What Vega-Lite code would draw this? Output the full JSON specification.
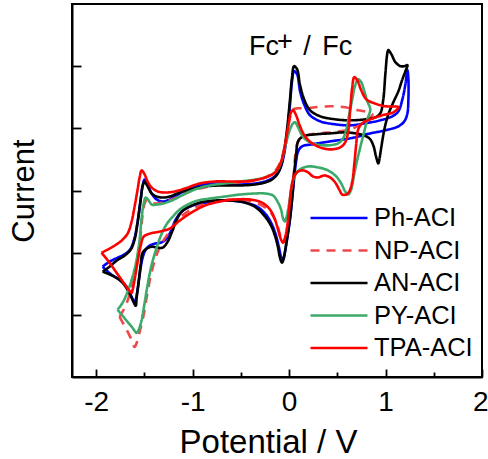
{
"$schema": "https://vega.github.io/schema/vega-lite/v6.json",
"width": 410, "height": 373,
"autosize": {"type": "none"},
"padding": {"left": 72, "top": 4, "right": 6, "bottom": 82},
"background": "white",
"config": {
  "view": {"stroke": "black", "strokeWidth": 2},
  "font": "Liberation Sans",
  "axis": {"domainColor": "black", "domainWidth": 2, "tickColor": "black", "tickWidth": 1.8, "grid": false, "labelColor": "black", "titleColor": "black", "labelFont": "Liberation Sans", "titleFont": "Liberation Sans", "titleFontWeight": "normal"},
  "legend": {"orient": "none", "legendX": 237, "legendY": 202, "symbolType": "stroke", "symbolSize": 3249, "symbolStrokeWidth": 2.6, "labelFontSize": 25.5, "labelFont": "Liberation Sans", "labelColor": "black", "clipHeight": 24, "rowPadding": 6.5, "labelOffset": 5, "padding": 0}
},
"layer": [
{
"data": {"values": [
{"s":"Ph-ACI","i":1,"x":-1.933,"y":1.774},{"s":"Ph-ACI","i":2,"x":-1.861,"y":1.855},{"s":"Ph-ACI","i":3,"x":-1.778,"y":1.919},{"s":"Ph-ACI","i":4,"x":-1.694,"y":1.984},{"s":"Ph-ACI","i":5,"x":-1.642,"y":2.065},{"s":"Ph-ACI","i":6,"x":-1.601,"y":2.242},{"s":"Ph-ACI","i":7,"x":-1.570,"y":2.500},{"s":"Ph-ACI","i":8,"x":-1.538,"y":2.855},{"s":"Ph-ACI","i":9,"x":-1.518,"y":3.081},{"s":"Ph-ACI","i":10,"x":-1.497,"y":3.177},{"s":"Ph-ACI","i":11,"x":-1.466,"y":3.097},{"s":"Ph-ACI","i":12,"x":-1.424,"y":2.952},{"s":"Ph-ACI","i":13,"x":-1.372,"y":2.855},{"s":"Ph-ACI","i":14,"x":-1.310,"y":2.823},{"s":"Ph-ACI","i":15,"x":-1.237,"y":2.855},{"s":"Ph-ACI","i":16,"x":-1.133,"y":2.952},{"s":"Ph-ACI","i":17,"x":-1.029,"y":3.032},{"s":"Ph-ACI","i":18,"x":-0.873,"y":3.097},{"s":"Ph-ACI","i":19,"x":-0.717,"y":3.113},{"s":"Ph-ACI","i":20,"x":-0.509,"y":3.097},{"s":"Ph-ACI","i":21,"x":-0.353,"y":3.113},{"s":"Ph-ACI","i":22,"x":-0.249,"y":3.145},{"s":"Ph-ACI","i":23,"x":-0.177,"y":3.194},{"s":"Ph-ACI","i":24,"x":-0.125,"y":3.258},{"s":"Ph-ACI","i":25,"x":-0.083,"y":3.387},{"s":"Ph-ACI","i":26,"x":-0.052,"y":3.581},{"s":"Ph-ACI","i":27,"x":-0.021,"y":3.903},{"s":"Ph-ACI","i":28,"x":0.010,"y":4.387},{"s":"Ph-ACI","i":29,"x":0.031,"y":4.758},{"s":"Ph-ACI","i":30,"x":0.052,"y":4.919},{"s":"Ph-ACI","i":31,"x":0.083,"y":4.871},{"s":"Ph-ACI","i":32,"x":0.114,"y":4.597},{"s":"Ph-ACI","i":33,"x":0.156,"y":4.387},{"s":"Ph-ACI","i":34,"x":0.218,"y":4.210},{"s":"Ph-ACI","i":35,"x":0.322,"y":4.113},{"s":"Ph-ACI","i":36,"x":0.478,"y":4.065},{"s":"Ph-ACI","i":37,"x":0.634,"y":4.048},{"s":"Ph-ACI","i":38,"x":0.790,"y":4.081},{"s":"Ph-ACI","i":39,"x":0.946,"y":4.129},{"s":"Ph-ACI","i":40,"x":1.071,"y":4.194},{"s":"Ph-ACI","i":41,"x":1.133,"y":4.274},{"s":"Ph-ACI","i":42,"x":1.175,"y":4.468},{"s":"Ph-ACI","i":43,"x":1.206,"y":4.710},{"s":"Ph-ACI","i":44,"x":1.227,"y":4.935},{"s":"Ph-ACI","i":45,"x":1.237,"y":4.790},{"s":"Ph-ACI","i":46,"x":1.237,"y":4.468},{"s":"Ph-ACI","i":47,"x":1.227,"y":4.242},{"s":"Ph-ACI","i":48,"x":1.195,"y":4.113},{"s":"Ph-ACI","i":49,"x":1.133,"y":4.032},{"s":"Ph-ACI","i":50,"x":0.998,"y":3.968},{"s":"Ph-ACI","i":51,"x":0.842,"y":3.919},{"s":"Ph-ACI","i":52,"x":0.634,"y":3.839},{"s":"Ph-ACI","i":53,"x":0.426,"y":3.790},{"s":"Ph-ACI","i":54,"x":0.239,"y":3.742},{"s":"Ph-ACI","i":55,"x":0.135,"y":3.710},{"s":"Ph-ACI","i":56,"x":0.094,"y":3.629},{"s":"Ph-ACI","i":57,"x":0.073,"y":3.468},{"s":"Ph-ACI","i":58,"x":0.052,"y":3.177},{"s":"Ph-ACI","i":59,"x":0.031,"y":2.855},{"s":"Ph-ACI","i":60,"x":0.010,"y":2.532},{"s":"Ph-ACI","i":61,"x":-0.021,"y":2.210},{"s":"Ph-ACI","i":62,"x":-0.042,"y":2.016},{"s":"Ph-ACI","i":63,"x":-0.062,"y":1.887},{"s":"Ph-ACI","i":64,"x":-0.083,"y":1.935},{"s":"Ph-ACI","i":65,"x":-0.104,"y":2.081},{"s":"Ph-ACI","i":66,"x":-0.135,"y":2.274},{"s":"Ph-ACI","i":67,"x":-0.177,"y":2.452},{"s":"Ph-ACI","i":68,"x":-0.239,"y":2.613},{"s":"Ph-ACI","i":69,"x":-0.333,"y":2.742},{"s":"Ph-ACI","i":70,"x":-0.457,"y":2.806},{"s":"Ph-ACI","i":71,"x":-0.613,"y":2.839},{"s":"Ph-ACI","i":72,"x":-0.769,"y":2.823},{"s":"Ph-ACI","i":73,"x":-0.925,"y":2.790},{"s":"Ph-ACI","i":74,"x":-1.029,"y":2.742},{"s":"Ph-ACI","i":75,"x":-1.112,"y":2.661},{"s":"Ph-ACI","i":76,"x":-1.175,"y":2.532},{"s":"Ph-ACI","i":77,"x":-1.227,"y":2.339},{"s":"Ph-ACI","i":78,"x":-1.279,"y":2.210},{"s":"Ph-ACI","i":79,"x":-1.331,"y":2.161},{"s":"Ph-ACI","i":80,"x":-1.393,"y":2.145},{"s":"Ph-ACI","i":81,"x":-1.445,"y":2.113},{"s":"Ph-ACI","i":82,"x":-1.486,"y":2.048},{"s":"Ph-ACI","i":83,"x":-1.518,"y":1.919},{"s":"Ph-ACI","i":84,"x":-1.549,"y":1.645},{"s":"Ph-ACI","i":85,"x":-1.570,"y":1.403},{"s":"Ph-ACI","i":86,"x":-1.590,"y":1.242},{"s":"Ph-ACI","i":87,"x":-1.601,"y":1.194},{"s":"Ph-ACI","i":88,"x":-1.632,"y":1.290},{"s":"Ph-ACI","i":89,"x":-1.684,"y":1.452},{"s":"Ph-ACI","i":90,"x":-1.757,"y":1.565},{"s":"Ph-ACI","i":91,"x":-1.840,"y":1.645},{"s":"Ph-ACI","i":92,"x":-1.933,"y":1.774},

{"s":"NP-ACI","i":1,"x":-1.757,"y":0.968},{"s":"NP-ACI","i":2,"x":-1.715,"y":1.081},{"s":"NP-ACI","i":3,"x":-1.663,"y":1.274},{"s":"NP-ACI","i":4,"x":-1.611,"y":1.565},{"s":"NP-ACI","i":5,"x":-1.570,"y":1.919},{"s":"NP-ACI","i":6,"x":-1.538,"y":2.290},{"s":"NP-ACI","i":7,"x":-1.518,"y":2.613},{"s":"NP-ACI","i":8,"x":-1.497,"y":2.790},{"s":"NP-ACI","i":9,"x":-1.476,"y":2.839},{"s":"NP-ACI","i":10,"x":-1.435,"y":2.806},{"s":"NP-ACI","i":11,"x":-1.383,"y":2.790},{"s":"NP-ACI","i":12,"x":-1.310,"y":2.806},{"s":"NP-ACI","i":13,"x":-1.216,"y":2.855},{"s":"NP-ACI","i":14,"x":-1.081,"y":2.952},{"s":"NP-ACI","i":15,"x":-0.925,"y":3.032},{"s":"NP-ACI","i":16,"x":-0.717,"y":3.097},{"s":"NP-ACI","i":17,"x":-0.509,"y":3.129},{"s":"NP-ACI","i":18,"x":-0.353,"y":3.161},{"s":"NP-ACI","i":19,"x":-0.249,"y":3.210},{"s":"NP-ACI","i":20,"x":-0.177,"y":3.274},{"s":"NP-ACI","i":21,"x":-0.125,"y":3.355},{"s":"NP-ACI","i":22,"x":-0.083,"y":3.484},{"s":"NP-ACI","i":23,"x":-0.052,"y":3.661},{"s":"NP-ACI","i":24,"x":-0.021,"y":3.903},{"s":"NP-ACI","i":25,"x":0.010,"y":4.177},{"s":"NP-ACI","i":26,"x":0.042,"y":4.306},{"s":"NP-ACI","i":27,"x":0.094,"y":4.323},{"s":"NP-ACI","i":28,"x":0.166,"y":4.323},{"s":"NP-ACI","i":29,"x":0.270,"y":4.339},{"s":"NP-ACI","i":30,"x":0.426,"y":4.355},{"s":"NP-ACI","i":31,"x":0.582,"y":4.339},{"s":"NP-ACI","i":32,"x":0.717,"y":4.290},{"s":"NP-ACI","i":33,"x":0.821,"y":4.258},{"s":"NP-ACI","i":34,"x":0.863,"y":4.226},{"s":"NP-ACI","i":35,"x":0.800,"y":4.113},{"s":"NP-ACI","i":36,"x":0.686,"y":4.016},{"s":"NP-ACI","i":37,"x":0.530,"y":3.952},{"s":"NP-ACI","i":38,"x":0.322,"y":3.919},{"s":"NP-ACI","i":39,"x":0.177,"y":3.887},{"s":"NP-ACI","i":40,"x":0.104,"y":3.823},{"s":"NP-ACI","i":41,"x":0.073,"y":3.661},{"s":"NP-ACI","i":42,"x":0.052,"y":3.339},{"s":"NP-ACI","i":43,"x":0.031,"y":2.935},{"s":"NP-ACI","i":44,"x":0.000,"y":2.532},{"s":"NP-ACI","i":45,"x":-0.031,"y":2.274},{"s":"NP-ACI","i":46,"x":-0.052,"y":2.177},{"s":"NP-ACI","i":47,"x":-0.083,"y":2.242},{"s":"NP-ACI","i":48,"x":-0.114,"y":2.403},{"s":"NP-ACI","i":49,"x":-0.156,"y":2.565},{"s":"NP-ACI","i":50,"x":-0.218,"y":2.694},{"s":"NP-ACI","i":51,"x":-0.322,"y":2.790},{"s":"NP-ACI","i":52,"x":-0.457,"y":2.839},{"s":"NP-ACI","i":53,"x":-0.613,"y":2.855},{"s":"NP-ACI","i":54,"x":-0.769,"y":2.823},{"s":"NP-ACI","i":55,"x":-0.925,"y":2.758},{"s":"NP-ACI","i":56,"x":-1.050,"y":2.661},{"s":"NP-ACI","i":57,"x":-1.154,"y":2.532},{"s":"NP-ACI","i":58,"x":-1.237,"y":2.339},{"s":"NP-ACI","i":59,"x":-1.310,"y":2.177},{"s":"NP-ACI","i":60,"x":-1.372,"y":1.968},{"s":"NP-ACI","i":61,"x":-1.424,"y":1.694},{"s":"NP-ACI","i":62,"x":-1.466,"y":1.371},{"s":"NP-ACI","i":63,"x":-1.507,"y":1.000},{"s":"NP-ACI","i":64,"x":-1.549,"y":0.726},{"s":"NP-ACI","i":65,"x":-1.580,"y":0.548},{"s":"NP-ACI","i":66,"x":-1.601,"y":0.484},{"s":"NP-ACI","i":67,"x":-1.642,"y":0.629},{"s":"NP-ACI","i":68,"x":-1.694,"y":0.790},{"s":"NP-ACI","i":69,"x":-1.757,"y":0.968},

{"s":"AN-ACI","i":1,"x":-1.933,"y":1.694},{"s":"AN-ACI","i":2,"x":-1.861,"y":1.774},{"s":"AN-ACI","i":3,"x":-1.788,"y":1.871},{"s":"AN-ACI","i":4,"x":-1.705,"y":1.952},{"s":"AN-ACI","i":5,"x":-1.642,"y":2.048},{"s":"AN-ACI","i":6,"x":-1.601,"y":2.210},{"s":"AN-ACI","i":7,"x":-1.570,"y":2.484},{"s":"AN-ACI","i":8,"x":-1.538,"y":2.855},{"s":"AN-ACI","i":9,"x":-1.518,"y":3.065},{"s":"AN-ACI","i":10,"x":-1.497,"y":3.145},{"s":"AN-ACI","i":11,"x":-1.466,"y":3.065},{"s":"AN-ACI","i":12,"x":-1.424,"y":2.952},{"s":"AN-ACI","i":13,"x":-1.372,"y":2.903},{"s":"AN-ACI","i":14,"x":-1.310,"y":2.887},{"s":"AN-ACI","i":15,"x":-1.237,"y":2.903},{"s":"AN-ACI","i":16,"x":-1.133,"y":2.968},{"s":"AN-ACI","i":17,"x":-1.029,"y":3.016},{"s":"AN-ACI","i":18,"x":-0.873,"y":3.065},{"s":"AN-ACI","i":19,"x":-0.717,"y":3.081},{"s":"AN-ACI","i":20,"x":-0.509,"y":3.081},{"s":"AN-ACI","i":21,"x":-0.353,"y":3.097},{"s":"AN-ACI","i":22,"x":-0.249,"y":3.129},{"s":"AN-ACI","i":23,"x":-0.177,"y":3.177},{"s":"AN-ACI","i":24,"x":-0.125,"y":3.258},{"s":"AN-ACI","i":25,"x":-0.083,"y":3.403},{"s":"AN-ACI","i":26,"x":-0.052,"y":3.629},{"s":"AN-ACI","i":27,"x":-0.021,"y":3.984},{"s":"AN-ACI","i":28,"x":0.010,"y":4.468},{"s":"AN-ACI","i":29,"x":0.031,"y":4.823},{"s":"AN-ACI","i":30,"x":0.052,"y":5.000},{"s":"AN-ACI","i":31,"x":0.083,"y":4.952},{"s":"AN-ACI","i":32,"x":0.114,"y":4.694},{"s":"AN-ACI","i":33,"x":0.156,"y":4.468},{"s":"AN-ACI","i":34,"x":0.218,"y":4.290},{"s":"AN-ACI","i":35,"x":0.322,"y":4.194},{"s":"AN-ACI","i":36,"x":0.478,"y":4.145},{"s":"AN-ACI","i":37,"x":0.634,"y":4.129},{"s":"AN-ACI","i":38,"x":0.790,"y":4.145},{"s":"AN-ACI","i":39,"x":0.894,"y":4.177},{"s":"AN-ACI","i":40,"x":0.946,"y":4.242},{"s":"AN-ACI","i":41,"x":0.977,"y":4.468},{"s":"AN-ACI","i":42,"x":0.998,"y":4.871},{"s":"AN-ACI","i":43,"x":1.019,"y":5.210},{"s":"AN-ACI","i":44,"x":1.029,"y":5.258},{"s":"AN-ACI","i":45,"x":1.060,"y":5.194},{"s":"AN-ACI","i":46,"x":1.102,"y":5.065},{"s":"AN-ACI","i":47,"x":1.154,"y":5.000},{"s":"AN-ACI","i":48,"x":1.195,"y":5.000},{"s":"AN-ACI","i":49,"x":1.227,"y":5.016},{"s":"AN-ACI","i":50,"x":1.206,"y":4.919},{"s":"AN-ACI","i":51,"x":1.175,"y":4.790},{"s":"AN-ACI","i":52,"x":1.133,"y":4.597},{"s":"AN-ACI","i":53,"x":1.081,"y":4.419},{"s":"AN-ACI","i":54,"x":1.029,"y":4.226},{"s":"AN-ACI","i":55,"x":0.988,"y":3.984},{"s":"AN-ACI","i":56,"x":0.956,"y":3.694},{"s":"AN-ACI","i":57,"x":0.936,"y":3.500},{"s":"AN-ACI","i":58,"x":0.925,"y":3.435},{"s":"AN-ACI","i":59,"x":0.904,"y":3.532},{"s":"AN-ACI","i":60,"x":0.873,"y":3.726},{"s":"AN-ACI","i":61,"x":0.832,"y":3.839},{"s":"AN-ACI","i":62,"x":0.738,"y":3.903},{"s":"AN-ACI","i":63,"x":0.582,"y":3.935},{"s":"AN-ACI","i":64,"x":0.426,"y":3.919},{"s":"AN-ACI","i":65,"x":0.270,"y":3.903},{"s":"AN-ACI","i":66,"x":0.146,"y":3.871},{"s":"AN-ACI","i":67,"x":0.094,"y":3.790},{"s":"AN-ACI","i":68,"x":0.073,"y":3.581},{"s":"AN-ACI","i":69,"x":0.052,"y":3.258},{"s":"AN-ACI","i":70,"x":0.031,"y":2.855},{"s":"AN-ACI","i":71,"x":0.000,"y":2.452},{"s":"AN-ACI","i":72,"x":-0.031,"y":2.129},{"s":"AN-ACI","i":73,"x":-0.052,"y":1.935},{"s":"AN-ACI","i":74,"x":-0.073,"y":1.839},{"s":"AN-ACI","i":75,"x":-0.094,"y":1.919},{"s":"AN-ACI","i":76,"x":-0.114,"y":2.081},{"s":"AN-ACI","i":77,"x":-0.146,"y":2.274},{"s":"AN-ACI","i":78,"x":-0.187,"y":2.435},{"s":"AN-ACI","i":79,"x":-0.249,"y":2.581},{"s":"AN-ACI","i":80,"x":-0.343,"y":2.726},{"s":"AN-ACI","i":81,"x":-0.457,"y":2.806},{"s":"AN-ACI","i":82,"x":-0.613,"y":2.839},{"s":"AN-ACI","i":83,"x":-0.769,"y":2.839},{"s":"AN-ACI","i":84,"x":-0.925,"y":2.806},{"s":"AN-ACI","i":85,"x":-1.029,"y":2.742},{"s":"AN-ACI","i":86,"x":-1.112,"y":2.661},{"s":"AN-ACI","i":87,"x":-1.164,"y":2.532},{"s":"AN-ACI","i":88,"x":-1.216,"y":2.323},{"s":"AN-ACI","i":89,"x":-1.258,"y":2.177},{"s":"AN-ACI","i":90,"x":-1.310,"y":2.081},{"s":"AN-ACI","i":91,"x":-1.362,"y":2.081},{"s":"AN-ACI","i":92,"x":-1.424,"y":2.097},{"s":"AN-ACI","i":93,"x":-1.476,"y":2.065},{"s":"AN-ACI","i":94,"x":-1.518,"y":2.000},{"s":"AN-ACI","i":95,"x":-1.538,"y":1.806},{"s":"AN-ACI","i":96,"x":-1.559,"y":1.532},{"s":"AN-ACI","i":97,"x":-1.580,"y":1.274},{"s":"AN-ACI","i":98,"x":-1.590,"y":1.145},{"s":"AN-ACI","i":99,"x":-1.622,"y":1.242},{"s":"AN-ACI","i":100,"x":-1.674,"y":1.403},{"s":"AN-ACI","i":101,"x":-1.736,"y":1.532},{"s":"AN-ACI","i":102,"x":-1.830,"y":1.629},{"s":"AN-ACI","i":103,"x":-1.933,"y":1.694},

{"s":"PY-ACI","i":1,"x":-1.778,"y":1.081},{"s":"PY-ACI","i":2,"x":-1.726,"y":1.194},{"s":"PY-ACI","i":3,"x":-1.674,"y":1.371},{"s":"PY-ACI","i":4,"x":-1.622,"y":1.613},{"s":"PY-ACI","i":5,"x":-1.580,"y":1.887},{"s":"PY-ACI","i":6,"x":-1.549,"y":2.210},{"s":"PY-ACI","i":7,"x":-1.528,"y":2.565},{"s":"PY-ACI","i":8,"x":-1.507,"y":2.790},{"s":"PY-ACI","i":9,"x":-1.486,"y":2.887},{"s":"PY-ACI","i":10,"x":-1.455,"y":2.839},{"s":"PY-ACI","i":11,"x":-1.424,"y":2.774},{"s":"PY-ACI","i":12,"x":-1.372,"y":2.774},{"s":"PY-ACI","i":13,"x":-1.310,"y":2.790},{"s":"PY-ACI","i":14,"x":-1.216,"y":2.839},{"s":"PY-ACI","i":15,"x":-1.112,"y":2.919},{"s":"PY-ACI","i":16,"x":-0.977,"y":3.016},{"s":"PY-ACI","i":17,"x":-0.821,"y":3.081},{"s":"PY-ACI","i":18,"x":-0.665,"y":3.113},{"s":"PY-ACI","i":19,"x":-0.509,"y":3.145},{"s":"PY-ACI","i":20,"x":-0.353,"y":3.177},{"s":"PY-ACI","i":21,"x":-0.249,"y":3.210},{"s":"PY-ACI","i":22,"x":-0.177,"y":3.258},{"s":"PY-ACI","i":23,"x":-0.125,"y":3.323},{"s":"PY-ACI","i":24,"x":-0.083,"y":3.452},{"s":"PY-ACI","i":25,"x":-0.052,"y":3.629},{"s":"PY-ACI","i":26,"x":-0.021,"y":3.823},{"s":"PY-ACI","i":27,"x":0.010,"y":3.984},{"s":"PY-ACI","i":28,"x":0.042,"y":4.081},{"s":"PY-ACI","i":29,"x":0.062,"y":4.097},{"s":"PY-ACI","i":30,"x":0.094,"y":4.016},{"s":"PY-ACI","i":31,"x":0.135,"y":3.887},{"s":"PY-ACI","i":32,"x":0.198,"y":3.790},{"s":"PY-ACI","i":33,"x":0.281,"y":3.742},{"s":"PY-ACI","i":34,"x":0.405,"y":3.726},{"s":"PY-ACI","i":35,"x":0.509,"y":3.758},{"s":"PY-ACI","i":36,"x":0.561,"y":3.839},{"s":"PY-ACI","i":37,"x":0.593,"y":3.984},{"s":"PY-ACI","i":38,"x":0.624,"y":4.226},{"s":"PY-ACI","i":39,"x":0.655,"y":4.468},{"s":"PY-ACI","i":40,"x":0.686,"y":4.694},{"s":"PY-ACI","i":41,"x":0.717,"y":4.790},{"s":"PY-ACI","i":42,"x":0.748,"y":4.742},{"s":"PY-ACI","i":43,"x":0.780,"y":4.597},{"s":"PY-ACI","i":44,"x":0.811,"y":4.435},{"s":"PY-ACI","i":45,"x":0.842,"y":4.306},{"s":"PY-ACI","i":46,"x":0.811,"y":4.145},{"s":"PY-ACI","i":47,"x":0.780,"y":3.952},{"s":"PY-ACI","i":48,"x":0.738,"y":3.694},{"s":"PY-ACI","i":49,"x":0.696,"y":3.419},{"s":"PY-ACI","i":50,"x":0.665,"y":3.177},{"s":"PY-ACI","i":51,"x":0.644,"y":3.016},{"s":"PY-ACI","i":52,"x":0.613,"y":2.935},{"s":"PY-ACI","i":53,"x":0.582,"y":2.984},{"s":"PY-ACI","i":54,"x":0.541,"y":3.113},{"s":"PY-ACI","i":55,"x":0.489,"y":3.226},{"s":"PY-ACI","i":56,"x":0.405,"y":3.323},{"s":"PY-ACI","i":57,"x":0.301,"y":3.371},{"s":"PY-ACI","i":58,"x":0.198,"y":3.387},{"s":"PY-ACI","i":59,"x":0.114,"y":3.339},{"s":"PY-ACI","i":60,"x":0.062,"y":3.242},{"s":"PY-ACI","i":61,"x":0.031,"y":3.097},{"s":"PY-ACI","i":62,"x":0.010,"y":2.887},{"s":"PY-ACI","i":63,"x":-0.010,"y":2.694},{"s":"PY-ACI","i":64,"x":-0.031,"y":2.548},{"s":"PY-ACI","i":65,"x":-0.042,"y":2.500},{"s":"PY-ACI","i":66,"x":-0.062,"y":2.548},{"s":"PY-ACI","i":67,"x":-0.083,"y":2.694},{"s":"PY-ACI","i":68,"x":-0.114,"y":2.806},{"s":"PY-ACI","i":69,"x":-0.166,"y":2.919},{"s":"PY-ACI","i":70,"x":-0.249,"y":2.952},{"s":"PY-ACI","i":71,"x":-0.353,"y":2.952},{"s":"PY-ACI","i":72,"x":-0.509,"y":2.935},{"s":"PY-ACI","i":73,"x":-0.665,"y":2.903},{"s":"PY-ACI","i":74,"x":-0.821,"y":2.871},{"s":"PY-ACI","i":75,"x":-0.946,"y":2.839},{"s":"PY-ACI","i":76,"x":-1.050,"y":2.774},{"s":"PY-ACI","i":77,"x":-1.133,"y":2.694},{"s":"PY-ACI","i":78,"x":-1.195,"y":2.597},{"s":"PY-ACI","i":79,"x":-1.258,"y":2.484},{"s":"PY-ACI","i":80,"x":-1.320,"y":2.306},{"s":"PY-ACI","i":81,"x":-1.372,"y":2.081},{"s":"PY-ACI","i":82,"x":-1.424,"y":1.806},{"s":"PY-ACI","i":83,"x":-1.466,"y":1.484},{"s":"PY-ACI","i":84,"x":-1.497,"y":1.194},{"s":"PY-ACI","i":85,"x":-1.528,"y":0.919},{"s":"PY-ACI","i":86,"x":-1.559,"y":0.758},{"s":"PY-ACI","i":87,"x":-1.580,"y":0.710},{"s":"PY-ACI","i":88,"x":-1.622,"y":0.790},{"s":"PY-ACI","i":89,"x":-1.674,"y":0.887},{"s":"PY-ACI","i":90,"x":-1.726,"y":0.984},{"s":"PY-ACI","i":91,"x":-1.778,"y":1.081},

{"s":"TPA-ACI","i":1,"x":-1.944,"y":2.000},{"s":"TPA-ACI","i":2,"x":-1.882,"y":2.048},{"s":"TPA-ACI","i":3,"x":-1.809,"y":2.113},{"s":"TPA-ACI","i":4,"x":-1.736,"y":2.194},{"s":"TPA-ACI","i":5,"x":-1.674,"y":2.306},{"s":"TPA-ACI","i":6,"x":-1.632,"y":2.500},{"s":"TPA-ACI","i":7,"x":-1.601,"y":2.742},{"s":"TPA-ACI","i":8,"x":-1.570,"y":3.016},{"s":"TPA-ACI","i":9,"x":-1.549,"y":3.210},{"s":"TPA-ACI","i":10,"x":-1.528,"y":3.323},{"s":"TPA-ACI","i":11,"x":-1.497,"y":3.258},{"s":"TPA-ACI","i":12,"x":-1.466,"y":3.145},{"s":"TPA-ACI","i":13,"x":-1.424,"y":3.048},{"s":"TPA-ACI","i":14,"x":-1.362,"y":2.984},{"s":"TPA-ACI","i":15,"x":-1.279,"y":2.968},{"s":"TPA-ACI","i":16,"x":-1.185,"y":2.984},{"s":"TPA-ACI","i":17,"x":-1.081,"y":3.032},{"s":"TPA-ACI","i":18,"x":-0.925,"y":3.113},{"s":"TPA-ACI","i":19,"x":-0.769,"y":3.145},{"s":"TPA-ACI","i":20,"x":-0.613,"y":3.145},{"s":"TPA-ACI","i":21,"x":-0.457,"y":3.145},{"s":"TPA-ACI","i":22,"x":-0.322,"y":3.177},{"s":"TPA-ACI","i":23,"x":-0.218,"y":3.226},{"s":"TPA-ACI","i":24,"x":-0.146,"y":3.290},{"s":"TPA-ACI","i":25,"x":-0.094,"y":3.419},{"s":"TPA-ACI","i":26,"x":-0.062,"y":3.581},{"s":"TPA-ACI","i":27,"x":-0.031,"y":3.823},{"s":"TPA-ACI","i":28,"x":0.000,"y":4.113},{"s":"TPA-ACI","i":29,"x":0.021,"y":4.258},{"s":"TPA-ACI","i":30,"x":0.042,"y":4.290},{"s":"TPA-ACI","i":31,"x":0.073,"y":4.210},{"s":"TPA-ACI","i":32,"x":0.114,"y":4.032},{"s":"TPA-ACI","i":33,"x":0.166,"y":3.871},{"s":"TPA-ACI","i":34,"x":0.239,"y":3.758},{"s":"TPA-ACI","i":35,"x":0.322,"y":3.694},{"s":"TPA-ACI","i":36,"x":0.426,"y":3.661},{"s":"TPA-ACI","i":37,"x":0.530,"y":3.694},{"s":"TPA-ACI","i":38,"x":0.582,"y":3.774},{"s":"TPA-ACI","i":39,"x":0.613,"y":3.952},{"s":"TPA-ACI","i":40,"x":0.634,"y":4.306},{"s":"TPA-ACI","i":41,"x":0.655,"y":4.661},{"s":"TPA-ACI","i":42,"x":0.676,"y":4.823},{"s":"TPA-ACI","i":43,"x":0.707,"y":4.774},{"s":"TPA-ACI","i":44,"x":0.748,"y":4.613},{"s":"TPA-ACI","i":45,"x":0.800,"y":4.468},{"s":"TPA-ACI","i":46,"x":0.884,"y":4.403},{"s":"TPA-ACI","i":47,"x":0.998,"y":4.355},{"s":"TPA-ACI","i":48,"x":1.133,"y":4.339},{"s":"TPA-ACI","i":49,"x":1.081,"y":4.258},{"s":"TPA-ACI","i":50,"x":0.967,"y":4.210},{"s":"TPA-ACI","i":51,"x":0.842,"y":4.145},{"s":"TPA-ACI","i":52,"x":0.759,"y":4.081},{"s":"TPA-ACI","i":53,"x":0.717,"y":3.984},{"s":"TPA-ACI","i":54,"x":0.696,"y":3.742},{"s":"TPA-ACI","i":55,"x":0.676,"y":3.419},{"s":"TPA-ACI","i":56,"x":0.655,"y":3.145},{"s":"TPA-ACI","i":57,"x":0.624,"y":2.984},{"s":"TPA-ACI","i":58,"x":0.593,"y":2.935},{"s":"TPA-ACI","i":59,"x":0.551,"y":2.935},{"s":"TPA-ACI","i":60,"x":0.520,"y":3.016},{"s":"TPA-ACI","i":61,"x":0.478,"y":3.129},{"s":"TPA-ACI","i":62,"x":0.426,"y":3.210},{"s":"TPA-ACI","i":63,"x":0.364,"y":3.242},{"s":"TPA-ACI","i":64,"x":0.301,"y":3.210},{"s":"TPA-ACI","i":65,"x":0.249,"y":3.226},{"s":"TPA-ACI","i":66,"x":0.198,"y":3.290},{"s":"TPA-ACI","i":67,"x":0.146,"y":3.323},{"s":"TPA-ACI","i":68,"x":0.094,"y":3.306},{"s":"TPA-ACI","i":69,"x":0.052,"y":3.226},{"s":"TPA-ACI","i":70,"x":0.021,"y":3.016},{"s":"TPA-ACI","i":71,"x":0.000,"y":2.694},{"s":"TPA-ACI","i":72,"x":-0.021,"y":2.403},{"s":"TPA-ACI","i":73,"x":-0.042,"y":2.242},{"s":"TPA-ACI","i":74,"x":-0.062,"y":2.161},{"s":"TPA-ACI","i":75,"x":-0.083,"y":2.210},{"s":"TPA-ACI","i":76,"x":-0.114,"y":2.371},{"s":"TPA-ACI","i":77,"x":-0.146,"y":2.532},{"s":"TPA-ACI","i":78,"x":-0.198,"y":2.694},{"s":"TPA-ACI","i":79,"x":-0.281,"y":2.806},{"s":"TPA-ACI","i":80,"x":-0.405,"y":2.855},{"s":"TPA-ACI","i":81,"x":-0.561,"y":2.855},{"s":"TPA-ACI","i":82,"x":-0.717,"y":2.823},{"s":"TPA-ACI","i":83,"x":-0.873,"y":2.758},{"s":"TPA-ACI","i":84,"x":-1.029,"y":2.629},{"s":"TPA-ACI","i":85,"x":-1.133,"y":2.516},{"s":"TPA-ACI","i":86,"x":-1.237,"y":2.387},{"s":"TPA-ACI","i":87,"x":-1.341,"y":2.339},{"s":"TPA-ACI","i":88,"x":-1.445,"y":2.306},{"s":"TPA-ACI","i":89,"x":-1.507,"y":2.258},{"s":"TPA-ACI","i":90,"x":-1.538,"y":2.113},{"s":"TPA-ACI","i":91,"x":-1.570,"y":1.855},{"s":"TPA-ACI","i":92,"x":-1.601,"y":1.565},{"s":"TPA-ACI","i":93,"x":-1.622,"y":1.403},{"s":"TPA-ACI","i":94,"x":-1.632,"y":1.355},{"s":"TPA-ACI","i":95,"x":-1.663,"y":1.403},{"s":"TPA-ACI","i":96,"x":-1.715,"y":1.516},{"s":"TPA-ACI","i":97,"x":-1.788,"y":1.677},{"s":"TPA-ACI","i":98,"x":-1.861,"y":1.839},{"s":"TPA-ACI","i":99,"x":-1.944,"y":2.000}
]},
"mark": {"type": "line", "strokeWidth": 2.6, "interpolate": "catmull-rom"},
"encoding": {
  "x": {"field": "x", "type": "quantitative", "scale": {"domain": [-2.25, 2], "nice": false, "zero": false},
        "axis": {"values": [-2, -1.5, -1, -0.5, 0, 0.5, 1, 1.5, 2], "tickSize": {"condition": {"test": "abs(datum.value % 1) < 0.01", "value": -8}, "value": -5},
                 "labelExpr": "abs(datum.value % 1) < 0.01 ? (datum.value < 0 ? '-' : '') + abs(datum.value) : ''",
                 "labelFontSize": 28, "labelPadding": 19, "labelFlush": true, "labelFlushOffset": 6, "labelOverlap": false,
                 "title": "Potential / V", "titleFontSize": 33, "titleX": 196, "titleY": 75, "titleBaseline": "alphabetic"}},
  "y": {"field": "y", "type": "quantitative", "scale": {"domain": [0, 6], "nice": false, "zero": false},
        "axis": {"values": [1, 2, 3, 4, 5], "tickSize": -9, "labels": false, "title": "Current", "titleFontSize": 31, "titlePadding": 31}},
  "color": {"field": "s", "type": "nominal", "scale": {"domain": ["Ph-ACI", "NP-ACI", "AN-ACI", "PY-ACI", "TPA-ACI"], "range": ["#0000ff", "#f04848", "#000000", "#3caa6a", "#ff0000"]}, "legend": {"title": null}},
  "strokeDash": {"field": "s", "type": "nominal", "scale": {"domain": ["Ph-ACI", "NP-ACI", "AN-ACI", "PY-ACI", "TPA-ACI"], "range": [[1, 0], [9, 7], [1, 0], [1, 0], [1, 0]]}, "legend": {"title": null}},
  "order": {"field": "i", "type": "quantitative"}
}
},
{
"data": {"values": [{}]},
"mark": {"type": "text", "text": "Fc", "align": "left", "baseline": "alphabetic", "fontSize": 27, "font": "Liberation Sans", "color": "black"},
"encoding": {"x": {"datum": -0.416, "type": "quantitative"}, "y": {"datum": 5.177, "type": "quantitative"}}
},
{
"data": {"values": [{}]},
"mark": {"type": "text", "text": "+", "align": "left", "baseline": "alphabetic", "fontSize": 27, "font": "Liberation Sans", "color": "black"},
"encoding": {"x": {"datum": -0.125, "type": "quantitative"}, "y": {"datum": 5.258, "type": "quantitative"}}
},
{
"data": {"values": [{}]},
"mark": {"type": "text", "text": "/", "align": "left", "baseline": "alphabetic", "fontSize": 27, "font": "Liberation Sans", "color": "black"},
"encoding": {"x": {"datum": 0.146, "type": "quantitative"}, "y": {"datum": 5.177, "type": "quantitative"}}
},
{
"data": {"values": [{}]},
"mark": {"type": "text", "text": "Fc", "align": "left", "baseline": "alphabetic", "fontSize": 27, "font": "Liberation Sans", "color": "black"},
"encoding": {"x": {"datum": 0.343, "type": "quantitative"}, "y": {"datum": 5.177, "type": "quantitative"}}
}
]
}
